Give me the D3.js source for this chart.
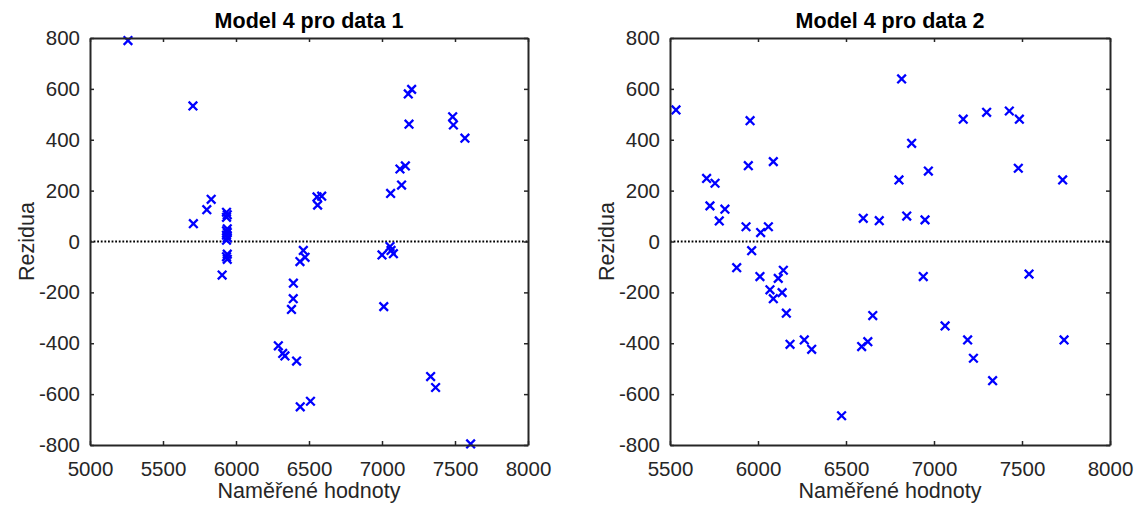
<!DOCTYPE html>
<html>
<head>
<meta charset="utf-8">
<script src="https://cdn.jsdelivr.net/npm/d3@7"></script>
<style>
  body { margin: 0; background: #fff; }
  text { font-family: "Liberation Sans", Arial, Helvetica, sans-serif; fill: #262626; }
</style>
</head>
<body>
<svg width="1144" height="510"></svg>
<script>
// data
var titles = ['Model 4 pro data 1', 'Model 4 pro data 2'];
var xDomains = [[5000, 8000], [5500, 8000]];
var yTicks = [-800, -600, -400, -200, 0, 200, 400, 600, 800];
var xTicks1 = [5000, 5500, 6000, 6500, 7000, 7500, 8000];
var xTicks2 = [5500, 6000, 6500, 7000, 7500, 8000];

var mereni1 = [5260, 5705, 5708, 5800, 5830,
    5935, 5940, 5935, 5940, 5935, 5940, 5935, 5940, 5935, 5940, 5935, 5940, 5905,
    6290, 6320, 6335, 6415, 6440, 6510,
    6380, 6392, 6393, 6438, 6473, 6461,
    6555, 6587, 6559,
    7000, 7055, 7062, 7078, 7012,
    7059, 7134, 7123, 7160, 7185, 7180, 7203, 7484, 7489, 7568, 7333, 7367, 7607];
var rezidua1 = [790, 533, 70, 125, 166,
    115, 105, 95, 50, 42, 35, 25, 15, 5, -50, -60, -70, -132,
    -410, -440, -450, -470, -650, -628,
    -267, -225, -164, -79, -62, -35,
    175, 178, 143,
    -53, -20, -35, -48, -256,
    189, 222, 285, 297, 461, 580, 598, 490, 458, 406, -531, -574, -796];

var mereni2 = [5534, 5708, 5756, 5727, 5812, 5780, 5945, 5955, 5932, 5964,
    6015, 6059, 6087, 5879, 6011, 6068, 6087, 6115, 6144, 6137,
    6161, 6182, 6263, 6305, 6475, 6589, 6624, 6652, 6598, 6689,
    6801, 6816, 6845, 6873, 6949, 6968, 6939, 7063, 7166, 7191,
    7224, 7299, 7333, 7428, 7485, 7479, 7540, 7731, 7739];
var rezidua2 = [517, 248, 229, 140, 127, 81, 298, 475, 58, -36,
    35, 58, 314, -103, -138, -190, -225, -145, -113, -201,
    -282, -404, -387, -424, -685, -413, -394, -291, 91, 82,
    242, 639, 100, 386, 85, 277, -138, -332, 481, -387,
    -459, 508, -547, 513, 481, 288, -128, 242, -387];

var svg = d3.select('svg');

var panels = [
    {left: 90, right: 528, xTicks: xTicks1, xs: mereni1, ys: rezidua1},
    {left: 670, right: 1110, xTicks: xTicks2, xs: mereni2, ys: rezidua2}
];
var plotTop = 38, plotBottom = 445;

// plain hyphen like matlab, not the unicode minus
function fmt(d) { return String(d); }

panels.forEach(function (p, i) {
    var g = svg.append('g');

    var scaleX = d3.scaleLinear().domain(xDomains[i]).range([p.left, p.right]);
    var scaleY = d3.scaleLinear().domain([-800, 800]).range([plotBottom, plotTop]);

    // zero line
    g.append('line')
        .attr('x1', p.left).attr('x2', p.right)
        .attr('y1', scaleY(0)).attr('y2', scaleY(0))
        .attr('stroke', '#000')
        .attr('stroke-width', 2.2)
        .attr('stroke-dasharray', '1.8,1.8');

    // markers
    var pts = p.xs.map(function (x, j) { return [x, p.ys[j]]; });
    var s = 4.3;
    g.selectAll('path.mark')
        .data(pts)
        .enter()
        .append('path')
        .attr('class', 'mark')
        .attr('d', function (d) {
            var cx = scaleX(d[0]), cy = scaleY(d[1]);
            return 'M' + (cx - s) + ',' + (cy - s) + 'L' + (cx + s) + ',' + (cy + s) +
                'M' + (cx - s) + ',' + (cy + s) + 'L' + (cx + s) + ',' + (cy - s);
        })
        .attr('stroke', '#0000ff')
        .attr('stroke-width', 2.3)
        .attr('fill', 'none');

    // axes, ticks pointing inside
    var ax = g.append('g')
        .attr('transform', 'translate(0,' + plotBottom + ')')
        .call(d3.axisBottom(scaleX).tickValues(p.xTicks).tickSizeInner(-4).tickSizeOuter(0).tickPadding(16).tickFormat(fmt));
    var ay = g.append('g')
        .attr('transform', 'translate(' + p.left + ',0)')
        .call(d3.axisLeft(scaleY).tickValues(yTicks).tickSizeInner(-4).tickSizeOuter(0).tickPadding(10).tickFormat(fmt));
    var axt = g.append('g')
        .attr('transform', 'translate(0,' + plotTop + ')')
        .call(d3.axisTop(scaleX).tickValues(p.xTicks).tickSizeInner(-4).tickSizeOuter(0).tickFormat(''));
    var ayr = g.append('g')
        .attr('transform', 'translate(' + p.right + ',0)')
        .call(d3.axisRight(scaleY).tickValues(yTicks).tickSizeInner(-4).tickSizeOuter(0).tickFormat(''));

    [ax, ay, axt, ayr].forEach(function (a) {
        a.selectAll('path.domain').attr('stroke', '#262626').attr('stroke-width', 2);
        a.selectAll('.tick line').attr('stroke', '#262626').attr('stroke-width', 1.5);
        a.selectAll('.tick text')
            .attr('font-size', 20.5)
            .attr('font-family', '"Liberation Sans", Arial, sans-serif')
            .attr('fill', '#262626');
    });

    var cx = (p.left + p.right) / 2;
    g.append('text')
        .attr('x', cx)
        .attr('y', 28)
        .attr('text-anchor', 'middle')
        .attr('font-size', 21.5)
        .attr('font-weight', 'bold')
        .style('fill', '#000')
        .text(titles[i]);

    g.append('text')
        .attr('x', cx)
        .attr('y', 498)
        .attr('text-anchor', 'middle')
        .attr('font-size', 21.5)
        .text('Naměřené hodnoty');

    g.append('text')
        .attr('transform', 'translate(' + (p.left - 56) + ',' + ((plotTop + plotBottom) / 2) + ') rotate(-90)')
        .attr('text-anchor', 'middle')
        .attr('font-size', 21.5)
        .text('Rezidua');
});
</script>
</body>
</html>
